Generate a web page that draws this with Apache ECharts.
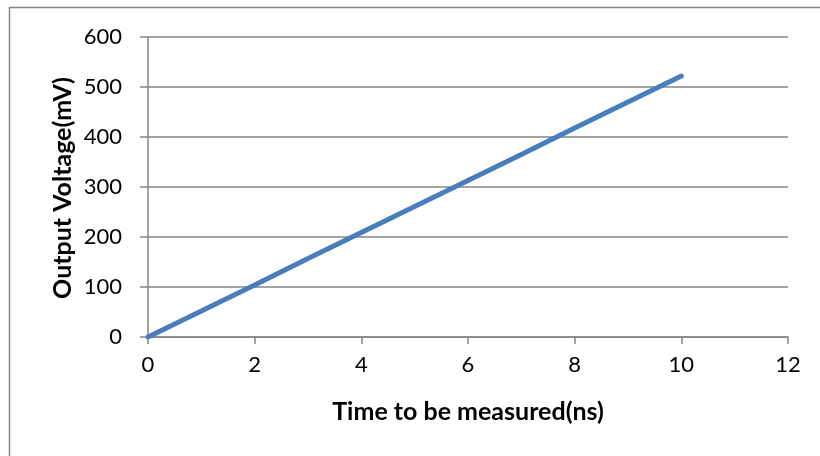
<!DOCTYPE html>
<html>
<head>
<meta charset="utf-8">
<script src="https://cdn.jsdelivr.net/npm/echarts@6/dist/echarts.min.js"></script>
<style>html,body{margin:0;padding:0;background:#fff}#c{width:820px;height:456px}</style>
</head>
<body>
<div id="c"></div>
<script>
const timeNs = [0, 1, 2, 3, 4, 5, 6, 7, 8, 9, 10];
const voltageMv = [0, 52, 104, 157, 209, 261, 313, 365, 418, 470, 522];
const xTitle = 'Time to be measured(ns)';
const yTitle = 'Output Voltage(mV)';

const chart = echarts.init(document.getElementById('c'), null, {renderer: 'canvas'});
const axisGray = '#868686';
const font = 'Lato, "Open Sans", sans-serif';
chart.setOption({
  animation: false,
  graphic: [{
    type: 'rect', shape: {x: 9.5, y: 7.5, width: 830, height: 470},
    style: {fill: 'none', stroke: axisGray, lineWidth: 1.5}, silent: true, z: -1
  }, {
    type: 'text', x: 63, y: 188, rotation: Math.PI / 2,
    style: {text: yTitle, fontFamily: font, fontWeight: 'bold', fontSize: 25, fill: '#000',
            align: 'center', verticalAlign: 'middle'},
    silent: true
  }],
  grid: {left: 148, right: 32, top: 37, bottom: 119, containLabel: false},
  xAxis: {
    type: 'value', min: 0, max: 12, interval: 2,
    name: xTitle, nameLocation: 'middle', nameGap: 62,
    nameTextStyle: {fontFamily: font, fontWeight: 'bold', fontSize: 25, color: '#000'},
    axisLine: {show: true, lineStyle: {color: axisGray, width: 1.5}},
    axisTick: {show: true, length: 7, lineStyle: {color: axisGray, width: 1.5}},
    axisLabel: {fontFamily: font, fontSize: 22, color: '#000', margin: 17},
    splitLine: {show: false}
  },
  yAxis: {
    type: 'value', min: 0, max: 600, interval: 100,
    axisLine: {show: true, lineStyle: {color: axisGray, width: 1.5}},
    axisTick: {show: true, length: 8, lineStyle: {color: axisGray, width: 1.5}},
    axisLabel: {fontFamily: font, fontSize: 22, color: '#000', margin: 26},
    splitLine: {show: true, lineStyle: {color: axisGray, width: 1.5}}
  },
  series: [{
    type: 'line',
    data: timeNs.map((t, i) => [t, voltageMv[i]]),
    showSymbol: false, symbol: 'none',
    lineStyle: {color: '#4a7ebb', width: 5, cap: 'round'}
  }]
});
</script>
</body>
</html>
